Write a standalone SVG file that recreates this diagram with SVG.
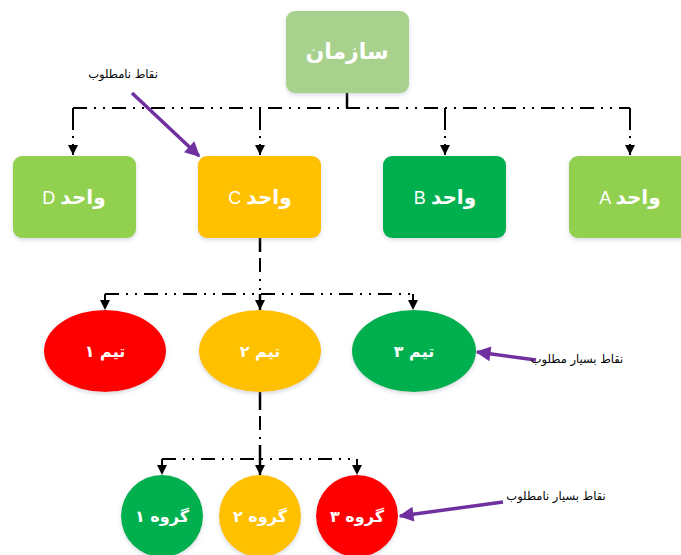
<svg xmlns="http://www.w3.org/2000/svg" width="681" height="555" viewBox="0 0 681 555">
<defs>
<marker id="ah" viewBox="0 0 10 10" refX="10" refY="5" markerWidth="10" markerHeight="10" markerUnits="userSpaceOnUse" orient="auto"><path d="M0,0 L10,5 L0,10 Z" fill="#000"/></marker>
<marker id="ph" viewBox="0 0 10 10" refX="9" refY="5" markerWidth="18" markerHeight="15" markerUnits="userSpaceOnUse" orient="auto"><path d="M0,0 L10,5 L0,10 Z" fill="#7030A0"/></marker>
<filter id="sh" x="-10%" y="-10%" width="120%" height="130%"><feDropShadow dx="0" dy="2" stdDeviation="2" flood-color="#8899aa" flood-opacity="0.35"/></filter>
</defs>
<style>
.dd{fill:none;stroke:#000;stroke-width:2;stroke-dasharray:14 7 2 7 2 7}
.dv{fill:none;stroke:#000;stroke-width:2;stroke-dasharray:22 6 2 6}
.sl{fill:none;stroke:#000;stroke-width:2.5}
.pa{fill:none;stroke:#7030A0;stroke-width:3.5}
.lbl{font-family:"Liberation Sans","DejaVu Sans",sans-serif;fill:#fff;text-anchor:middle}
.fa{font-family:"DejaVu Sans",sans-serif;font-weight:bold;fill:#fff;text-anchor:middle}
.note{font-family:"DejaVu Sans",sans-serif;font-size:11.5px;fill:#000;text-anchor:middle}
</style>
<rect width="681" height="555" fill="#fff"/>
<g id="connectors">
<line class="sl" x1="347" y1="93" x2="347" y2="108"/>
<line class="dd" x1="73" y1="108" x2="630" y2="108"/>
<line class="dv" x1="73" y1="108" x2="73" y2="155" marker-end="url(#ah)"/>
<line class="dv" x1="260" y1="108" x2="260" y2="155" marker-end="url(#ah)"/>
<line class="dv" x1="445" y1="108" x2="445" y2="155" marker-end="url(#ah)"/>
<line class="dv" x1="630" y1="108" x2="630" y2="155" marker-end="url(#ah)"/>
<line class="sl" x1="260" y1="238" x2="260" y2="252"/>
<line class="dd" x1="260" y1="258" x2="260" y2="294"/>
<line class="dd" x1="105" y1="294" x2="413" y2="294"/>
<line class="dd" x1="105" y1="294" x2="105" y2="310" marker-end="url(#ah)"/>
<line class="sl" x1="260" y1="294" x2="260" y2="310" marker-end="url(#ah)"/>
<line class="dd" x1="413" y1="294" x2="413" y2="310" marker-end="url(#ah)"/>
<line class="sl" x1="260" y1="392" x2="260" y2="410"/>
<line class="dd" x1="260" y1="416" x2="260" y2="459"/>
<line class="dd" x1="162" y1="459" x2="357" y2="459"/>
<line class="dd" x1="162" y1="459" x2="162" y2="475" marker-end="url(#ah)"/>
<line class="sl" x1="260" y1="445" x2="260" y2="475" marker-end="url(#ah)"/>
<line class="dd" x1="357" y1="459" x2="357" y2="475" marker-end="url(#ah)"/>
<line class="pa" x1="132" y1="93" x2="199" y2="156" marker-end="url(#ph)"/>
<line class="pa" x1="536" y1="360" x2="477" y2="352" marker-end="url(#ph)"/>
<line class="pa" x1="503" y1="502" x2="400" y2="516" marker-end="url(#ph)"/>
</g>
<g id="org"><rect x="286" y="11" width="123" height="82" rx="9" fill="#A9D18E" filter="url(#sh)"/><text class="fa" x="347" y="59" font-size="22">سازمان</text></g>
<g id="unitD"><rect x="13" y="156" width="123" height="82" rx="9" fill="#92D050" filter="url(#sh)"/><text class="lbl" x="74" y="204" font-size="18">D <tspan font-family="DejaVu Sans" font-weight="bold" font-size="20">واحد</tspan></text></g>
<g id="unitC"><rect x="198" y="156" width="123" height="82" rx="9" fill="#FFC000" filter="url(#sh)"/><text class="lbl" x="260" y="204" font-size="18">C <tspan font-family="DejaVu Sans" font-weight="bold" font-size="20">واحد</tspan></text></g>
<g id="unitB"><rect x="383" y="156" width="123" height="82" rx="9" fill="#00B050" filter="url(#sh)"/><text class="lbl" x="445" y="204" font-size="18">B <tspan font-family="DejaVu Sans" font-weight="bold" font-size="20">واحد</tspan></text></g>
<g id="unitA"><rect x="569" y="156" width="123" height="82" rx="9" fill="#92D050" filter="url(#sh)"/><text class="lbl" x="630" y="204" font-size="18">A <tspan font-family="DejaVu Sans" font-weight="bold" font-size="20">واحد</tspan></text></g>
<g id="team1"><ellipse cx="105" cy="351" rx="61" ry="41" fill="#FF0000" filter="url(#sh)"/><text class="fa" x="105" y="357" font-size="16" direction="rtl">تیم ۱</text></g>
<g id="team2"><ellipse cx="260" cy="351" rx="61" ry="41" fill="#FFC000" filter="url(#sh)"/><text class="fa" x="260" y="357" font-size="16" direction="rtl">تیم ۲</text></g>
<g id="team3"><ellipse cx="414" cy="351" rx="62" ry="41" fill="#00B050" filter="url(#sh)"/><text class="fa" x="414" y="357" font-size="16" direction="rtl">تیم ۳</text></g>
<g id="group1"><circle cx="162" cy="516" r="41" fill="#00B050" filter="url(#sh)"/><text class="fa" x="162" y="522" font-size="16" direction="rtl">گروه ۱</text></g>
<g id="group2"><circle cx="260" cy="516" r="41" fill="#FFC000" filter="url(#sh)"/><text class="fa" x="260" y="522" font-size="16" direction="rtl">گروه ۲</text></g>
<g id="group3"><circle cx="357" cy="516" r="41" fill="#FF0000" filter="url(#sh)"/><text class="fa" x="357" y="522" font-size="16" direction="rtl">گروه ۳</text></g>
<g id="notes">
<text class="note" x="123" y="78" direction="rtl">نقاط نامطلوب</text>
<text class="note" x="577" y="363" direction="rtl">نقاط بسیار مطلوب</text>
<text class="note" x="556" y="500" direction="rtl">نقاط بسیار نامطلوب</text>
</g>
</svg>
